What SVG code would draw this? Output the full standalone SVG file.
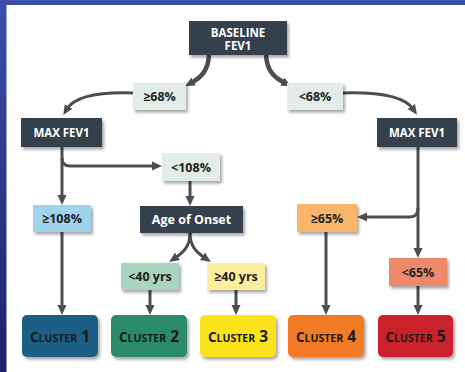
<svg xmlns="http://www.w3.org/2000/svg" width="465" height="372" viewBox="0 0 465 372">
<defs>
<linearGradient id="bg" x1="0" y1="0" x2="0" y2="1">
<stop offset="0" stop-color="#3a50a8"/>
<stop offset="1" stop-color="#1e206a"/>
</linearGradient>
<filter id="sh" x="-10%" y="-10%" width="130%" height="140%">
<feDropShadow dx="2" dy="2.5" stdDeviation="1.5" flood-color="#000" flood-opacity="0.35"/>
</filter>
<marker id="ah" markerUnits="userSpaceOnUse" markerWidth="10" markerHeight="10" refX="3" refY="5" orient="auto" viewBox="0 0 10 10">
<path d="M0,0.5 L10,5 L0,9.5 z" fill="#4a4e54"/>
</marker>
<style>
.dark{fill:#36404e;filter:url(#sh)}
.lite{fill:#e3ece6;filter:url(#sh)}
.cl{filter:url(#sh)}
.tw{font-family:"Open Sans","DejaVu Sans",sans-serif;font-weight:bold;fill:#fff;text-anchor:middle}
.tl{font-family:"Open Sans","DejaVu Sans",sans-serif;font-weight:bold;fill:#222;font-size:12.5px;text-anchor:middle}
.tc{font-family:"Open Sans","DejaVu Sans",sans-serif;font-weight:bold;fill:#1a1a1a;text-anchor:middle}
.cn path{fill:none;stroke:#4a4e54;stroke-width:3;marker-end:url(#ah)}
.cn path.thick{stroke-width:4.5}
</style>
</defs>
<rect x="0" y="0" width="465" height="372" fill="url(#bg)"/>
<rect x="6.5" y="5" width="458.5" height="367" fill="#ffffff"/>

<g class="cn" id="connectors">
<path class="thick" d="M 209 55 C 208 70, 202 77, 191 83"/>
<path class="thick" d="M 266 55 C 267 70, 273 77, 285 83"/>
<path d="M 133 93 C 100 92, 75 96, 67 109"/>
<path d="M 343 93 C 378 92, 404 96, 413 109"/>
<path d="M 62 147 V 198"/>
<path d="M 62 158 Q 62 166 70 166 H 155"/>
<path d="M 190 181 V 199"/>
<path d="M 62 232 V 308"/>
<path d="M 190 233 C 190 246, 184 252, 175 258"/>
<path d="M 190 233 C 190 246, 196 252, 205 258"/>
<path d="M 150 290 V 308"/>
<path d="M 236 290 V 308"/>
<path d="M 418 147 V 251"/>
<path d="M 418 208 Q 418 217 410 217 H 364"/>
<path d="M 326 232 V 308"/>
<path d="M 418 286 V 308"/>
</g>

<g id="baseline"><rect class="dark" x="189" y="21" width="98" height="34"/>
<text class="tw" font-size="11.5" x="238" y="36.5">BASELINE</text>
<text class="tw" font-size="11.5" x="238" y="50">FEV1</text></g>

<g id="ge68"><rect class="lite" x="133" y="83" width="53" height="27"/>
<text class="tl" x="159.5" y="101">≥68%</text></g>
<g id="lt68"><rect class="lite" x="287" y="83" width="56" height="27"/>
<text class="tl" x="315" y="101">&lt;68%</text></g>

<g id="maxfev1-left"><rect class="dark" x="21" y="118" width="81" height="29"/>
<text class="tw" font-size="11.5" x="61.5" y="136.5">MAX FEV1</text></g>
<g id="maxfev1-right"><rect class="dark" x="377" y="118" width="80" height="29"/>
<text class="tw" font-size="11.5" x="417" y="136.5">MAX FEV1</text></g>

<g id="lt108"><rect class="lite" x="162" y="153" width="58" height="28"/>
<text class="tl" x="191" y="171.5">&lt;108%</text></g>

<g id="ge108"><rect fill="#9fd3ee" filter="url(#sh)" x="33" y="205" width="58" height="27"/>
<text class="tl" x="62" y="223">≥108%</text></g>
<g id="age"><rect class="dark" x="140" y="206" width="103" height="27"/>
<text class="tw" font-size="12.5" x="191.5" y="224">Age of Onset</text></g>
<g id="ge65"><rect fill="#f9b56a" filter="url(#sh)" x="297" y="204" width="60" height="28"/>
<text class="tl" x="327" y="222.5">≥65%</text></g>

<g id="lt40"><rect fill="#a8d5c0" filter="url(#sh)" x="121" y="263" width="58" height="27"/>
<text class="tl" x="150" y="281">&lt;40 yrs</text></g>
<g id="ge40"><rect fill="#fbee9c" filter="url(#sh)" x="207" y="263" width="58" height="27"/>
<text class="tl" x="236" y="281">≥40 yrs</text></g>
<g id="lt65"><rect fill="#ee8a6a" filter="url(#sh)" x="389" y="258" width="58" height="28"/>
<text class="tl" x="418" y="276.5">&lt;65%</text></g>

<g id="cluster1"><rect class="cl" fill="#1b5e86" x="22" y="315" width="76" height="42" rx="5"/>
<text class="tc" x="60" y="341.5"><tspan font-size="13.5">C</tspan><tspan font-size="10.5">LUSTER</tspan><tspan font-size="15.5"> 1</tspan></text></g>
<g id="cluster2"><rect class="cl" fill="#2a8c6c" x="111" y="315" width="76" height="42" rx="5"/>
<text class="tc" x="149" y="341.5"><tspan font-size="13.5">C</tspan><tspan font-size="10.5">LUSTER</tspan><tspan font-size="15.5"> 2</tspan></text></g>
<g id="cluster3"><rect class="cl" fill="#fbe31d" x="200" y="315" width="76" height="42" rx="5"/>
<text class="tc" x="238" y="341.5"><tspan font-size="13.5">C</tspan><tspan font-size="10.5">LUSTER</tspan><tspan font-size="15.5"> 3</tspan></text></g>
<g id="cluster4"><rect class="cl" fill="#f27a24" x="288" y="315" width="76" height="42" rx="5"/>
<text class="tc" x="326" y="341.5"><tspan font-size="13.5">C</tspan><tspan font-size="10.5">LUSTER</tspan><tspan font-size="15.5"> 4</tspan></text></g>
<g id="cluster5"><rect class="cl" fill="#c9202a" x="378" y="315" width="75" height="42" rx="5"/>
<text class="tc" x="415.5" y="341.5"><tspan font-size="13.5">C</tspan><tspan font-size="10.5">LUSTER</tspan><tspan font-size="15.5"> 5</tspan></text></g>
</svg>
